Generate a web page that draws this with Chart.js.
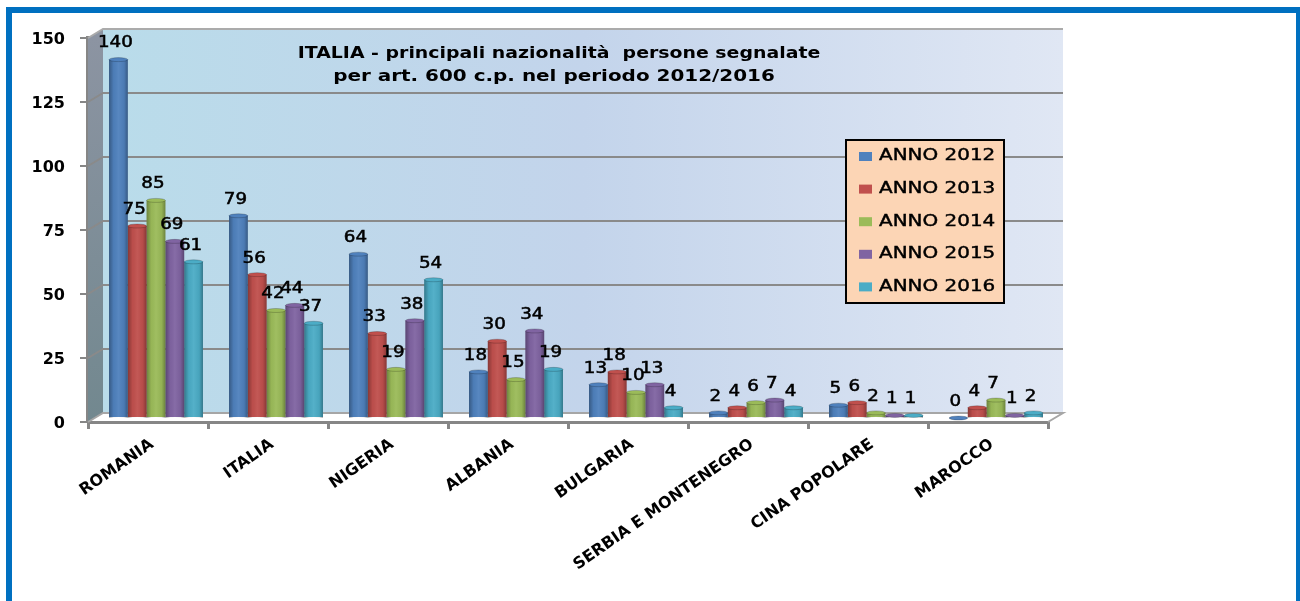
<!DOCTYPE html>
<html>
<head>
<meta charset="utf-8">
<title>ITALIA - principali nazionalità</title>
<style>
  html, body { margin: 0; padding: 0; background: #fff; overflow: hidden; }
  #page { position: relative; width: 1300px; height: 601px; overflow: hidden; }
  #frame { position: absolute; left: 6px; top: 7px; width: 1296px; height: 620px; border: 6px solid #0070C0; box-sizing: border-box; }
  canvas { position: absolute; left: 0; top: 0; }
</style>
<script src="https://cdn.jsdelivr.net/npm/chart.js@4/dist/chart.umd.min.js"></script>
</head>
<body>
<div id="page">
  <canvas id="chart" width="1300" height="601"></canvas>
  <div id="frame"></div>
</div>
<script>
const categories = ["ROMANIA", "ITALIA", "NIGERIA", "ALBANIA", "BULGARIA", "SERBIA E MONTENEGRO", "CINA POPOLARE", "MAROCCO"];
const anno2012 = [140, 79, 64, 18, 13, 2, 5, 0];
const anno2013 = [75, 56, 33, 30, 18, 4, 6, 4];
const anno2014 = [85, 42, 19, 15, 10, 6, 2, 7];
const anno2015 = [69, 44, 38, 34, 13, 7, 1, 1];
const anno2016 = [61, 37, 54, 19, 4, 4, 1, 2];
const seriesNames = ["ANNO 2012", "ANNO 2013", "ANNO 2014", "ANNO 2015", "ANNO 2016"];
const seriesValues = [anno2012, anno2013, anno2014, anno2015, anno2016];
const seriesColors = ["#4F81BD", "#C0504D", "#9BBB59", "#8064A2", "#4BACC6"];
const titleLines = ["ITALIA - principali nazionalità  persone segnalate", "per art. 600 c.p. nel periodo 2012/2016"];

// depth of the fake 3D box, and how far bars sit inside it
const wallDx = 15, wallDy = 9;
const barDx = 8, barDy = -4;
const axisGrey = "#868686";

// the reference text is stretched sideways, canvas fonts are not
function wideText(c, text, x, y, stretch, bolden) {
    c.save();
    c.translate(x, y);
    c.scale(stretch, 1);
    c.fillText(text, 0, 0);
    if (bolden) {
        c.strokeStyle = c.fillStyle;
        c.lineWidth = bolden;
        c.strokeText(text, 0, 0);
    }
    c.restore();
}

// Back wall, side wall, floor and gridlines
const wallsPlugin = {
    id: "walls",
    beforeDatasetsDraw(chart) {
        const c = chart.ctx;
        const a = chart.chartArea;
        const yScale = chart.scales.y;

        const g = c.createLinearGradient(a.left + wallDx, 0, a.right + wallDx, 0);
        g.addColorStop(0, "#B9DCEA");
        g.addColorStop(0.5, "#C3D4EB");
        g.addColorStop(1, "#E0E7F4");
        c.fillStyle = g;
        c.fillRect(a.left + wallDx, a.top - wallDy, a.width, a.height);

        const side = c.createLinearGradient(0, a.top, 0, a.bottom);
        side.addColorStop(0, "#8C94A2");
        side.addColorStop(1, "#72888F");
        c.fillStyle = side;
        c.beginPath();
        c.moveTo(a.left, a.top);
        c.lineTo(a.left + wallDx, a.top - wallDy);
        c.lineTo(a.left + wallDx, a.bottom - wallDy);
        c.lineTo(a.left, a.bottom);
        c.closePath();
        c.fill();

        // top edge of the wall
        c.strokeStyle = "#ABABAB";
        c.lineWidth = 2;
        c.beginPath();
        c.moveTo(a.left, a.top);
        c.lineTo(a.left + wallDx, a.top - wallDy);
        c.lineTo(a.right + wallDx, a.top - wallDy);
        c.stroke();

        // gridlines run along the side wall then the back wall
        yScale.ticks.forEach(t => {
            if (t.value === 150) return;
            const y = yScale.getPixelForValue(t.value);
            c.strokeStyle = t.value === 0 ? "#A6A6A6" : "#8A8A8A";
            c.lineWidth = 2;
            c.beginPath();
            c.moveTo(a.left, y);
            c.lineTo(a.left + wallDx, y - wallDy);
            c.lineTo(a.right + wallDx, y - wallDy);
            if (t.value === 0) c.lineTo(a.right, y);
            c.stroke();
        });

        // bars are drawn a little inside the box
        c.save();
        c.translate(barDx, barDy);
    },
    afterDatasetsDraw(chart) {
        const c = chart.ctx;
        const yScale = chart.scales.y;
        const y0 = yScale.getPixelForValue(0);

        chart.data.datasets.forEach((ds, i) => {
            chart.getDatasetMeta(i).data.forEach(bar => {
                const w = bar.width;
                const left = bar.x - w / 2;

                // cylinder shading over the flat bar
                if (bar.y < y0) {
                    const sh = c.createLinearGradient(left, 0, left + w, 0);
                    sh.addColorStop(0, "rgba(0,0,0,0.3)");
                    sh.addColorStop(0.25, "rgba(0,0,0,0.03)");
                    sh.addColorStop(0.5, "rgba(255,255,255,0.05)");
                    sh.addColorStop(0.8, "rgba(0,0,0,0.05)");
                    sh.addColorStop(1, "rgba(0,0,0,0.3)");
                    c.fillStyle = sh;
                    c.fillRect(left, bar.y, w, y0 - bar.y);
                }

                // top of the cylinder
                c.fillStyle = seriesColors[i];
                c.strokeStyle = "rgba(0,0,0,0.2)";
                c.lineWidth = 1;
                c.beginPath();
                c.ellipse(bar.x, bar.y, w / 2, 2, 0, 0, Math.PI * 2);
                c.fill();
                c.stroke();
            });
        });

        // labels after all bars, some of them overlap a neighbour
        chart.data.datasets.forEach((ds, i) => {
            chart.getDatasetMeta(i).data.forEach((bar, j) => {
                c.fillStyle = "#000";
                c.font = "15px 'DejaVu Sans'";
                c.textAlign = "center";
                c.textBaseline = "middle";
                wideText(c, String(ds.data[j]), bar.x - 3, bar.y - 16, 1.22, 0.5);
            });
        });
        c.restore();
    },
    afterDraw(chart) {
        const c = chart.ctx;

        // title sits on the wall
        c.fillStyle = "#000";
        c.font = "bold 15px 'DejaVu Sans'";
        c.textAlign = "center";
        c.textBaseline = "middle";
        wideText(c, titleLines[0], 559, 54, 1.26);
        wideText(c, titleLines[1], 554, 77, 1.33);

        // legend box
        const boxX = 846, boxY = 140, boxW = 158, boxH = 163, rowH = 32.6;
        c.fillStyle = "#FCD5B5";
        c.fillRect(boxX, boxY, boxW, boxH);
        c.strokeStyle = "#000";
        c.lineWidth = 2;
        c.strokeRect(boxX, boxY, boxW, boxH);
        chart.data.datasets.forEach((ds, i) => {
            const y = boxY + 16.5 + i * rowH;
            c.fillStyle = seriesColors[i];
            c.fillRect(boxX + 13, y - 4.5, 13, 9);
            c.fillStyle = "#000";
            c.font = "15px 'DejaVu Sans'";
            c.textAlign = "left";
            c.textBaseline = "middle";
            wideText(c, ds.label, boxX + 33, y, 1.33, 0.4);
        });
    }
};

new Chart(document.getElementById("chart"), {
    type: "bar",
    data: {
        labels: categories,
        datasets: seriesNames.map((name, i) => ({
            label: name,
            data: seriesValues[i],
            backgroundColor: seriesColors[i],
            borderWidth: 0,
            clip: false
        }))
    },
    options: {
        responsive: false,
        animation: false,
        devicePixelRatio: 1,
        categoryPercentage: 0.783,
        barPercentage: 1,
        layout: { padding: { top: 38, right: 252, left: 0, bottom: 0 } },
        plugins: { legend: { display: false }, title: { display: false }, tooltip: { enabled: false } },
        scales: {
            x: {
                afterFit(scale) { scale.height = 179; },
                border: { color: axisGrey, width: 3 },
                grid: { color: axisGrey, lineWidth: 3, drawOnChartArea: false, tickLength: 7 },
                ticks: {
                    color: "#000",
                    font: { family: "'DejaVu Sans'", size: 16, weight: "bold" },
                    minRotation: 35,
                    maxRotation: 35,
                    autoSkip: false,
                    labelOffset: 4,
                    padding: 6
                }
            },
            y: {
                min: 0,
                max: 150,
                afterFit(scale) { scale.width = 88; },
                border: { color: axisGrey, width: 4 },
                grid: { color: axisGrey, lineWidth: 2, drawOnChartArea: false, tickLength: 8 },
                ticks: {
                    stepSize: 25,
                    color: "#000",
                    font: { family: "'DejaVu Sans'", size: 16, weight: "bold" },
                    padding: 15,
                    labelOffset: 2
                }
            }
        }
    },
    plugins: [wallsPlugin]
});
</script>
</body>
</html>
